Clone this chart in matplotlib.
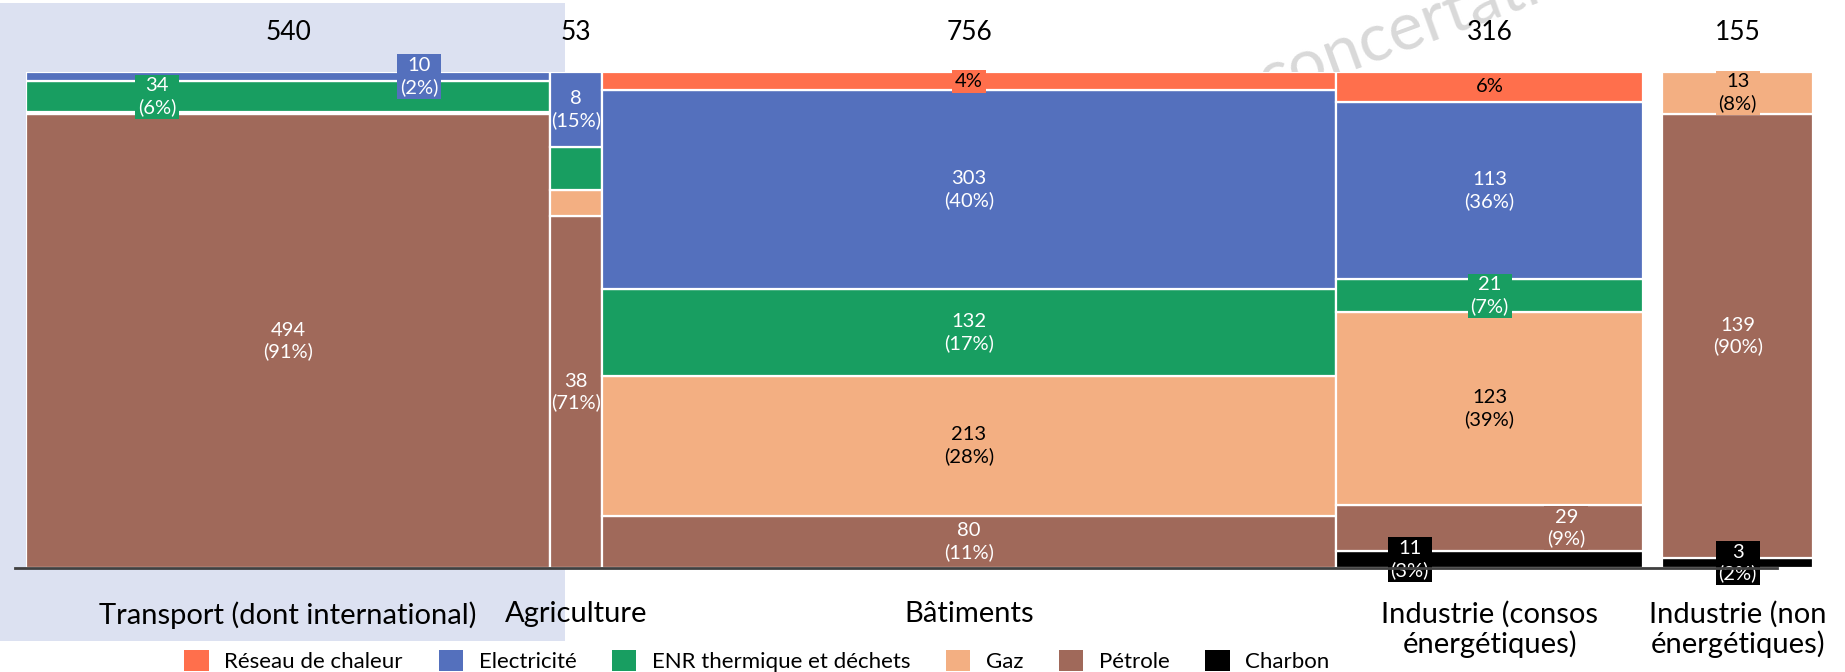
import matplotlib
matplotlib.use("Agg")
import matplotlib.pyplot as plt
from matplotlib.patches import Rectangle, Patch
from matplotlib.lines import Line2D
import numpy as np

# ---------------- data ----------------
categories = ["Transport (dont international)", "Agriculture", "Bâtiments",
              "Industrie (consos\nénergétiques)", "Industrie (non\nénergétiques)"]
totals = [540, 53, 756, 316, 155]
series_names = ["Réseau de chaleur", "Electricité", "ENR thermique et déchets",
                "Gaz", "Pétrole", "Charbon"]
reseau = [0, 0, 28, 19, 0]
electricite = [10, 8, 303, 113, 0]
enr = [34, 4.6, 132, 21, 0]
gaz = [2, 2.8, 213, 123, 13]
petrole = [494, 37.6, 80, 29, 139]
charbon = [0, 0, 0, 11, 3]

colors = {"Réseau de chaleur": "#FF6F4C", "Electricité": "#5470BD",
          "ENR thermique et déchets": "#189E61", "Gaz": "#F3AF82",
          "Pétrole": "#A0695A", "Charbon": "#000000"}
values = {"Réseau de chaleur": reseau, "Electricité": electricite,
          "ENR thermique et déchets": enr, "Gaz": gaz, "Pétrole": petrole,
          "Charbon": charbon}

# label styles: (category index, series) -> (kind, x-position in column, boxed)
labels = {
    (0, "Electricité"): ("full", 0.75, True),
    (0, "ENR thermique et déchets"): ("full", 0.25, True),
    (0, "Pétrole"): ("full", 0.5, False),
    (1, "Electricité"): ("full", 0.5, False),
    (1, "Pétrole"): ("full", 0.5, False),
    (2, "Réseau de chaleur"): ("pct", 0.5, True),
    (2, "Electricité"): ("full", 0.5, False),
    (2, "ENR thermique et déchets"): ("full", 0.5, False),
    (2, "Gaz"): ("full", 0.5, False),
    (2, "Pétrole"): ("full", 0.5, False),
    (3, "Réseau de chaleur"): ("pct", 0.5, False),
    (3, "Electricité"): ("full", 0.5, False),
    (3, "ENR thermique et déchets"): ("full", 0.5, True),
    (3, "Gaz"): ("full", 0.5, False),
    (3, "Pétrole"): ("full", 0.75, True),
    (3, "Charbon"): ("full", 0.24, True),
    (4, "Gaz"): ("full", 0.5, True),
    (4, "Pétrole"): ("full", 0.5, False),
    (4, "Charbon"): ("full", 0.5, True),
}
dark_text = {"Réseau de chaleur", "Gaz"}

# ---------------- figure ----------------
W, H = 1845, 672
fig = plt.figure(figsize=(W / 100, H / 100), dpi=100)
FONT = "Lato"

# highlight behind transport
fig.patches.append(Rectangle((0 / W, 1 - 641 / H), 565 / W, (641 - 3) / H,
                             transform=fig.transFigure, facecolor="#DCE1F1",
                             edgecolor="none", zorder=-5))
# watermark
fig.text(1266 / W, 1 - 101 / H, "concertation", fontsize=48, color="#D9D9D9",
         rotation=20, ha="left", va="baseline", family=FONT, zorder=-4,
         rotation_mode="anchor")

left_px, right_px, top_px, bot_px = 26, 1813, 72, 568
ax = fig.add_axes([left_px / W, 1 - bot_px / H, (right_px - left_px) / W,
                   (bot_px - top_px) / H])
ax.patch.set_visible(False)
for s in ax.spines.values():
    s.set_visible(False)
ax.set_xticks([])
ax.set_yticks([])

gap = 20  # gap (in units) before last column
lefts = []
x = 0
for i, t in enumerate(totals):
    if i == len(totals) - 1:
        x += gap
    lefts.append(x)
    x += t
ax.set_xlim(0, x)
ax.set_ylim(0, 1)

stack_order = ["Charbon", "Pétrole", "Gaz", "ENR thermique et déchets",
               "Electricité", "Réseau de chaleur"]
for i, t in enumerate(totals):
    colsum = sum(values[s][i] for s in stack_order)
    bottom = 0.0
    for s in stack_order:
        v = values[s][i]
        if v <= 0:
            continue
        h = v / colsum
        ax.bar(lefts[i], h, width=t, bottom=bottom, align="edge",
               color=colors[s], edgecolor="white", linewidth=1.6, zorder=2)
        key = (i, s)
        if key in labels:
            kind, xpos, boxed = labels[key]
            pct = round(100 * v / t)
            if kind == "pct":
                txt = f"{pct}%"
            else:
                txt = f"{v:.0f}\n({pct}%)"
            tc = "black" if s in dark_text else "white"
            bbox = dict(facecolor=colors[s], edgecolor="none", pad=2) if boxed else None
            ax.text(lefts[i] + xpos * t, bottom + h / 2, txt, ha="center",
                    va="center", fontsize=14.5, color=tc, family=FONT,
                    linespacing=1.25, bbox=bbox, zorder=5)
        bottom += h
    # totals
    ax.text(lefts[i] + t / 2, 1 + 39 / 496, f"{t}", ha="center", va="center",
            fontsize=19, color="black", family=FONT)
    # category
    ax.text(lefts[i] + t / 2, -33 / 496, categories[i], ha="center", va="top",
            fontsize=21, color="black", family=FONT, linespacing=1.1)

# baseline axis line
fig.lines.append(Line2D([15 / W, 1777 / W], [1 - 568 / H, 1 - 568 / H],
                        transform=fig.transFigure, color="#404040", lw=2,
                        zorder=3))

handles = [Patch(facecolor=colors[s], edgecolor="none") for s in series_names]
fig.legend(handles, series_names, loc="center", bbox_to_anchor=(757 / W, 1 - 661 / H),
           ncol=6, frameon=False, prop={"family": FONT, "size": 16},
           handlelength=1.1, handleheight=1.1, handletextpad=0.7,
           columnspacing=1.6, borderpad=0)

fig.savefig("out.png", dpi=100)
